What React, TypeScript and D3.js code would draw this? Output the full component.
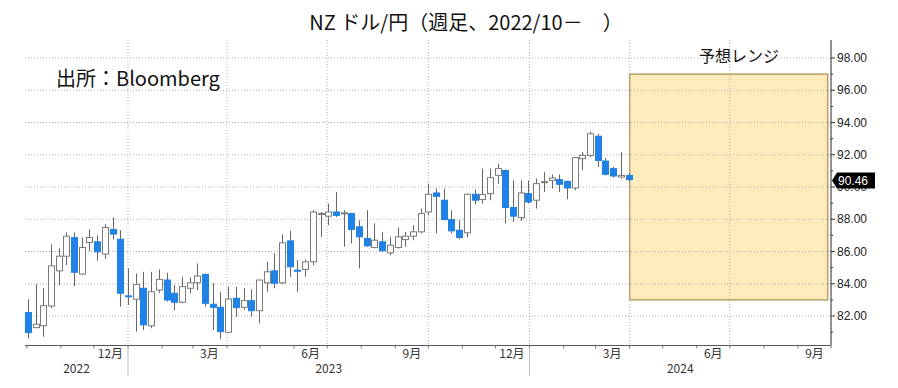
import * as React from 'react';
import * as d3 from 'd3';

// weekly NZD/JPY candles (first week: 2022-10-02)
const firstWeek = new Date(2022, 9, 2);
const opens = [
	82.21, 81.28, 81.4, 82.62, 84.8, 85.71, 86.87, 84.6, 86.56, 86.6, 85.84, 87.37, 86.76, 83.25, 83.04, 83.72,
	81.39, 83.61, 84.23, 83.41, 82.85, 83.72, 84.06, 84.58, 82.73, 82.54, 80.99, 83.1, 82.54, 82.95, 82.33, 84.06,
	84.8, 84.06, 86.66, 84.84, 84.89, 85.36, 88.32, 88.19, 88.45, 88.34, 88.35, 87.53, 86.81, 86.25, 86.6, 85.92,
	86.25, 86.74, 86.95, 87.22, 88.45, 89.63, 89.18, 87.98, 87.32, 87.16, 89.55, 89.22, 89.59, 90.72, 91.03, 88.73,
	88.1, 89.59, 89.18, 90.28, 90.41, 90.46, 90.35, 89.94, 91.76, 91.96, 93.15, 91.61, 91.14, 90.62, 90.72
];
const highs = [
	83.04, 83.98, 83.72, 86.44, 86.19, 87.18, 87.18, 86.87, 87.38, 87.01, 87.69, 88.11, 87.32, 84.95, 84.64, 84.74,
	84.74, 84.89, 84.68, 83.92, 84.43, 84.4, 85.26, 84.64, 84.03, 83.5, 83.82, 83.82, 83.72, 83.66, 84.23, 85.36,
	85.88, 87.07, 87.28, 85.47, 85.5, 88.56, 88.45, 88.97, 89.69, 88.56, 88.35, 87.94, 88.56, 87.74, 87.22, 86.91,
	87.49, 87.22, 87.63, 88.66, 90.21, 89.9, 89.9, 88.56, 87.94, 89.6, 89.84, 91.14, 91.14, 91.45, 91.08, 90.41,
	90.41, 90.41, 90.52, 90.93, 90.78, 90.78, 90.4, 91.82, 92.16, 93.44, 93.3, 91.8, 91.24, 92.16, 90.85
];
const lows = [
	80.62, 81.24, 80.72, 82.48, 83.92, 85.16, 83.86, 84.54, 86.04, 85.42, 85.53, 86.75, 82.58, 82.68, 81.03, 81.14,
	81.24, 83.44, 82.89, 82.33, 82.79, 83.41, 83.61, 82.58, 81.14, 80.56, 80.93, 81.96, 82.38, 81.96, 81.55, 83.5,
	83.72, 83.98, 84.43, 83.5, 84.43, 85.15, 86.9, 87.63, 88.14, 86.3, 86.5, 84.95, 86.3, 86.19, 85.98, 85.78,
	86.19, 86.29, 86.7, 87.12, 88.25, 87.12, 87.94, 87.12, 86.75, 86.87, 88.93, 88.97, 89.18, 90.21, 87.74, 87.84,
	87.9, 88.97, 88.66, 89.69, 89.9, 89.69, 89.24, 89.8, 91.03, 91.86, 91.24, 90.72, 90.58, 90.52, 90.35
];
const closes = [
	80.97, 81.49, 82.64, 85.11, 85.71, 86.95, 84.71, 86.25, 86.87, 85.98, 87.49, 87.08, 83.41, 83.2, 83.96, 81.45,
	83.51, 84.27, 82.99, 82.85, 83.82, 84.06, 84.48, 82.79, 82.54, 81.03, 83.05, 82.52, 82.95, 82.33, 84.23, 84.74,
	84.03, 86.54, 85.05, 84.79, 85.36, 88.45, 88.36, 88.45, 88.24, 88.4, 87.37, 86.91, 86.35, 86.7, 86.04, 86.39,
	86.91, 86.95, 87.22, 88.35, 89.55, 89.42, 87.98, 87.28, 86.87, 89.55, 89.18, 89.53, 90.58, 91.14, 88.73, 88.19,
	89.63, 89.07, 90.21, 90.33, 90.56, 90.17, 89.94, 91.82, 91.96, 93.3, 91.65, 90.79, 90.68, 90.72, 90.46
];
const lastPrice = 90.46;

// forecast range box
const rangeLow = 83;
const rangeHigh = 97;
const rangeStart = new Date(2024, 3, 1);
const rangeEnd = new Date(2024, 8, 28);

const yTicks = [82, 84, 86, 88, 90, 92, 94, 96, 98];
const monthLabels = ['12月', '3月', '6月', '9月', '12月', '3月', '6月', '9月'];
const yearLabels = ['2022', '2023', '2024'];

const W = 898;
const H = 388;
const left = 25;
const right = 831;
const top = 40;
const bottom = 345.5;

const BLUE = '#1e82e6';
const JP = '"Noto Sans CJK JP", "Noto Sans", sans-serif';

export default function App() {
	const x = d3.scaleTime().domain([new Date(2023, 0, 1), new Date(2024, 9, 1)]).range([128, 831]);
	const y = d3.scaleLinear().domain([82, 98]).range([316, 58]);

	const dates = opens.map((_, i) => d3.timeDay.offset(firstWeek, i * 7));
	const quarters = d3.timeMonth.every(3)!.range(new Date(2023, 0, 1), new Date(2024, 9, 2));
	const months = d3.timeMonth.range(new Date(2022, 9, 1), new Date(2024, 9, 2));
	const labelMonths = monthLabels.map((_, i) => new Date(2022, 11 + i * 3, 16));
	const yearSeps = [new Date(2023, 0, 1), new Date(2024, 0, 1)];
	const yearMid = [(left + x(yearSeps[0])) / 2, (x(yearSeps[0]) + x(yearSeps[1])) / 2, (x(yearSeps[1]) + right) / 2];
	const minor = d3.range(81, 99, 1).filter((v) => v % 2 === 1);
	const py = y(lastPrice) + 1;

	return (
		<svg width={W} height={H} style={{ position: 'absolute', left: 0, top: 0, background: '#fff' }}>
			{/* forecast range */}
			<rect
				x={x(rangeStart)}
				y={y(rangeHigh)}
				width={x(rangeEnd) - x(rangeStart)}
				height={y(rangeLow) - y(rangeHigh)}
				fill="#fdebbb"
				stroke="#b9a062"
				strokeWidth={1.5}
			/>

			{/* grid */}
			{yTicks.map((v) => (
				<line key={'h' + v} x1={left} x2={right} y1={y(v)} y2={y(v)} stroke="#b0b0b0" strokeDasharray="1,2" />
			))}
			{quarters.map((d) => (
				<line key={'v' + d.getTime()} x1={x(d)} x2={x(d)} y1={top} y2={bottom} stroke="#b0b0b0" strokeDasharray="1,2" />
			))}

			{/* candles */}
			{dates.map((d, i) => {
				const cx = Math.round(x(d)) + 0.5;
				const up = closes[i] >= opens[i];
				const y0 = y(Math.max(opens[i], closes[i]));
				const y1 = y(Math.min(opens[i], closes[i]));
				return (
					<g key={i}>
						<line x1={cx} x2={cx} y1={y(highs[i])} y2={y(lows[i])} stroke="#666" strokeWidth={1} />
						<rect
							x={cx - 3}
							y={y0}
							width={6}
							height={Math.max(1, y1 - y0)}
							fill={up ? '#fff' : BLUE}
							stroke={up ? '#7a7a7a' : BLUE}
							strokeWidth={1}
						/>
					</g>
				);
			})}

			{/* right axis */}
			<line x1={right} x2={right} y1={top} y2={bottom} stroke="#333" />
			{yTicks.map((v) => (
				<g key={'t' + v}>
					<line x1={right} x2={right + 4} y1={y(v)} y2={y(v)} stroke="#333" />
					<text x={right + 6} y={y(v)} dy="0.35em" fontSize={12} fontFamily="'Liberation Sans', sans-serif" fill="#222">
						{v.toFixed(2)}
					</text>
				</g>
			))}
			{minor.map((v) => (
				<line key={'m' + v} x1={right} x2={right + 2} y1={y(v)} y2={y(v)} stroke="#333" />
			))}

			{/* last price tag */}
			<path d={`M${right + 1},${py} L${right + 6},${py - 8} L${right + 44},${py - 8} L${right + 44},${py + 8} L${right + 6},${py + 8} Z`} fill="#000" />
			<text x={right + 7} y={py} dy="0.36em" fontSize={12} fontFamily="'Liberation Sans', sans-serif" fill="#fff">
				{lastPrice.toFixed(2)}
			</text>

			{/* bottom axis */}
			<line x1={left} x2={right} y1={bottom} y2={bottom} stroke="#555" />
			{months.map((d) => (
				<line key={'mt' + d.getTime()} x1={x(d)} x2={x(d)} y1={bottom} y2={bottom + 3} stroke="#777" />
			))}
			{labelMonths.map((d, i) => (
				<text key={'ml' + i} x={x(d)} y={358} textAnchor="middle" fontSize={12} fontFamily={JP} fill="#333">
					{monthLabels[i]}
				</text>
			))}
			{yearSeps.map((d) => (
				<line key={'ys' + d.getTime()} x1={x(d)} x2={x(d)} y1={bottom + 2} y2={376} stroke="#bbb" />
			))}
			{yearLabels.map((t, i) => (
				<text key={t} x={yearMid[i]} y={373} textAnchor="middle" fontSize={12} fontFamily={JP} fill="#333">
					{t}
				</text>
			))}

			{/* texts */}
			<text x={466} y={30} textAnchor="middle" fontSize={20} fontFamily={JP} fill="#111">
				NZ ドル/円（週足、2022/10－　）
			</text>
			<text x={56} y={86} fontSize={20} fontFamily={JP} fill="#111">
				出所：Bloomberg
			</text>
			<text x={699} y={62} fontSize={16} fontFamily={JP} fill="#111">
				予想レンジ
			</text>
		</svg>
	);
}
